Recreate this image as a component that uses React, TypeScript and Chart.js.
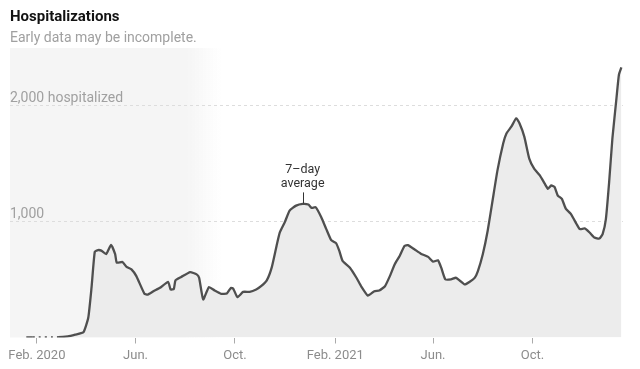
import React, { useEffect, useRef } from "react";
import { Chart, registerables } from "chart.js";

Chart.register(...registerables);

// Days since Feb. 1, 2020
const dayOffsets = [
  -13, -5, 26, 38, 47, 57, 63, 67, 71, 75, 79, 85, 91, 96, 98, 105, 110, 116, 122, 132,
  136, 143, 151, 161, 164, 168, 170, 177, 188, 196, 199, 204, 211, 218, 226, 233, 238, 241,
  246, 253, 261, 269, 275, 282, 288, 294, 298, 304, 310, 318, 326, 333, 337, 342, 349, 355,
  361, 367, 371, 375, 384, 392, 398, 406, 414, 420, 427, 433, 439, 445, 451, 455, 463, 471,
  480, 486, 492, 496, 501, 508, 514, 519, 525, 531, 537, 541, 547, 553, 559, 565, 572, 576,
  582, 588, 592, 598, 604, 610, 617, 623, 627, 631, 635, 639, 644, 649, 655, 662, 666, 672,
  678, 684, 690, 694, 698, 702, 706, 711, 714, 717,
];
const hospitalized = [
  0, 0, 2, 10, 25, 45, 170, 430, 740, 755, 750, 720, 800, 720, 646, 652, 609, 589, 530, 377,
  371, 400, 429, 481, 414, 420, 493, 522, 565, 545, 516, 328, 435, 406, 377, 380, 429, 420,
  348, 394, 394, 414, 443, 493, 603, 791, 907, 994, 1096, 1139, 1154, 1148, 1119, 1125, 1037, 936,
  841, 815, 748, 661, 603, 516, 440, 362, 400, 406, 443, 530, 632, 704, 791, 797, 762, 724,
  696, 655, 667, 603, 502, 502, 516, 490, 458, 481, 515, 574, 719, 922, 1183, 1443, 1676, 1762,
  1820, 1893, 1850, 1733, 1545, 1458, 1400, 1328, 1284, 1313, 1300, 1226, 1197, 1110, 1067, 980, 936, 942,
  907, 863, 855, 893, 1023, 1342, 1719, 2067, 2270, 2333,
];

const tickDays = [0, 121, 243, 366, 486, 608];
const tickLabels = ["Feb. 2020", "Jun.", "Oct.", "Feb. 2021", "Jun.", "Oct."];
const yTicks = [0, 1000, 2000];
const yTickLabels = ["", "1,000", "2,000 hospitalized"];

const titleText = "Hospitalizations";
const subtitleText = "Early data may be incomplete.";
const annotationLines = ["7\u2013day", "average"];
const annotationDay = 326;
const annotationValue = 1158;
const earlyDataEndDay = 226;
const earlyDataSolidDay = 183;

const FONT = "Roboto, 'Liberation Sans', sans-serif";

export default function App() {
  const ref = useRef<HTMLCanvasElement | null>(null);

  useEffect(() => {
    if (!ref.current) return;
    const points = dayOffsets.map((d, i) => ({ x: d, y: hospitalized[i] }));

    const decor = {
      id: "decor",
      beforeDraw(chart: any) {
        const { ctx, chartArea, scales } = chart;
        const xs = scales.x;
        const x0 = chartArea.left;
        const xSolid = xs.getPixelForValue(earlyDataSolidDay);
        const x1 = xs.getPixelForValue(earlyDataEndDay);
        const g = ctx.createLinearGradient(x0, 0, x1, 0);
        const stop = (xSolid - x0) / (x1 - x0);
        g.addColorStop(0, "#f5f5f5");
        g.addColorStop(stop, "#f5f5f5");
        g.addColorStop(1, "rgba(245,245,245,0)");
        ctx.save();
        ctx.fillStyle = g;
        ctx.fillRect(x0, chartArea.top, x1 - x0, chartArea.bottom - chartArea.top);
        ctx.restore();
      },
      afterDraw(chart: any) {
        const { ctx, scales } = chart;
        ctx.save();
        ctx.textAlign = "left";
        ctx.textBaseline = "middle";
        ctx.fillStyle = "#121212";
        ctx.font = `bold 15px ${FONT}`;
        ctx.fillText(titleText, 10, 17);
        ctx.fillStyle = "#a0a0a0";
        ctx.font = `14px ${FONT}`;
        ctx.fillText(subtitleText, 10, 38);

        const ax = scales.x.getPixelForValue(annotationDay);
        const ay = scales.y.getPixelForValue(annotationValue);
        ctx.strokeStyle = "#333";
        ctx.lineWidth = 1;
        ctx.beginPath();
        ctx.moveTo(Math.round(ax) + 0.5, ay - 11);
        ctx.lineTo(Math.round(ax) + 0.5, ay);
        ctx.stroke();
        ctx.fillStyle = "#333";
        ctx.textAlign = "center";
        ctx.font = `12.5px ${FONT}`;
        ctx.fillText(annotationLines[0], ax, ay - 34);
        ctx.fillText(annotationLines[1], ax, ay - 20);
        ctx.restore();
      },
    };

    const chart = new Chart(ref.current, {
      type: "line",
      data: {
        datasets: [
          {
            data: points,
            borderColor: "#4f4f4f",
            borderWidth: 2.3,
            backgroundColor: "#ececec",
            fill: "origin",
            pointRadius: 0,
            tension: 0.15,
            segment: {
              borderDash: (c: any) =>
                c.p0.parsed.x >= -5 && c.p1.parsed.x <= 26 ? [2, 4] : undefined,
            },
          },
        ],
      },
      options: {
        animation: false,
        responsive: false,
        layout: { padding: { left: 10, right: 17, top: 48, bottom: 0 } },
        plugins: { legend: { display: false }, tooltip: { enabled: false } },
        scales: {
          x: {
            type: "linear",
            min: -33,
            max: 719,
            afterBuildTicks: (s: any) => {
              s.ticks = tickDays.map((v) => ({ value: v }));
            },
            afterFit: (s: any) => {
              s.height = 31.5;
            },
            ticks: {
              autoSkip: false,
              maxRotation: 0,
              padding: 4,
              color: "#8c8c8c",
              font: { family: FONT, size: 13 },
              callback: (v: any) => {
                const i = tickDays.indexOf(Number(v));
                return i >= 0 ? tickLabels[i] : "";
              },
            },
            grid: {
              drawOnChartArea: false,
              drawTicks: true,
              tickLength: 6,
              color: "#aaaaaa",
            },
            border: { display: false },
          },
          y: {
            min: 0,
            max: 2500,
            afterBuildTicks: (s: any) => {
              s.ticks = yTicks.map((v) => ({ value: v }));
            },
            afterFit: (s: any) => {
              s.width = 0;
            },
            ticks: {
              mirror: true,
              padding: 0,
              labelOffset: -7,
              color: "#a0a0a0",
              font: { family: FONT, size: 14 },
              callback: (v: any) => {
                const i = yTicks.indexOf(Number(v));
                return i >= 0 ? yTickLabels[i] : "";
              },
            },
            grid: {
              drawTicks: false,
              color: (c: any) => (c.tick && c.tick.value === 0 ? "rgba(0,0,0,0)" : "#dddddd"),
            },
            border: { display: false, dash: [3, 3] },
          },
        },
      },
      plugins: [decor],
    });
    return () => chart.destroy();
  }, []);

  return (
    <div style={{ position: "fixed", left: 0, top: 0, width: 640, height: 369, background: "#fff" }}>
      <canvas ref={ref} width={640} height={369} />
    </div>
  );
}
